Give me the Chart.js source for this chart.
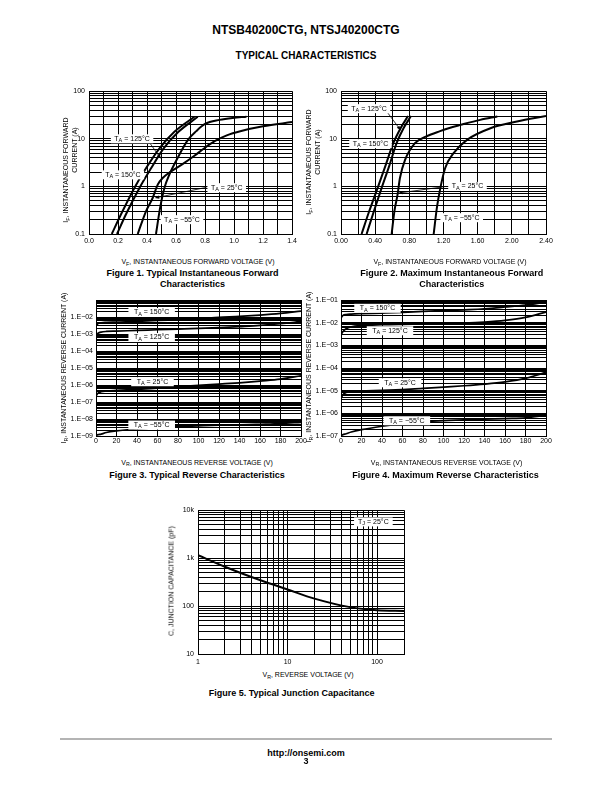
<!DOCTYPE html>
<html>
<head>
<meta charset="utf-8">
<title>NTSB40200CTG typical characteristics</title>
<script src="https://cdn.jsdelivr.net/npm/chart.js@4.4.1/dist/chart.umd.min.js"></script>
<style>
  body { margin: 0; background: #fff; }
  #page { position: relative; width: 612px; height: 792px; overflow: hidden;
          font-family: "Liberation Sans", Arial, sans-serif; color: #000; }
  .t { position: absolute; white-space: nowrap; transform: translate(-50%, -50%); line-height: 1; }
  .r { transform: translate(-50%, -50%) rotate(-90deg); }
  .ax { font-size: 7px; }
  .cap { font-size: 9px; font-weight: bold; }
  .s { font-size: 0.75em; position: relative; top: 0.35em; }
  canvas { position: absolute; }
  #rule { position: absolute; left: 60px; top: 738px; width: 492px; height: 2px; background: #b4b4b4; }
</style>
</head>
<body>
<div id="page">
  <div class="t" style="left:306px;top:30px;font-size:12px;font-weight:bold">NTSB40200CTG, NTSJ40200CTG</div>
  <div class="t" style="left:306px;top:56px;font-size:10px;font-weight:bold">TYPICAL CHARACTERISTICS</div>

  <canvas id="fig1"></canvas>
  <canvas id="fig2"></canvas>
  <canvas id="fig3"></canvas>
  <canvas id="fig4"></canvas>
  <canvas id="fig5"></canvas>

  <!-- figure 1 texts -->
  <div class="t ax r" style="left:65.5px;top:170px">I<span class="s">F</span>, INSTANTANEOUS FORWARD</div>
  <div class="t ax r" style="left:74px;top:150px">CURRENT (A)</div>
  <div class="t ax" style="left:198px;top:262px">V<span class="s">F</span>, INSTANTANEOUS FORWARD VOLTAGE (V)</div>
  <div class="t cap" style="left:192.5px;top:273.3px">Figure 1. Typical Instantaneous Forward</div>
  <div class="t cap" style="left:192.5px;top:284.3px">Characteristics</div>

  <!-- figure 2 texts -->
  <div class="t ax r" style="left:309px;top:162px">I<span class="s">F</span>, INSTANTANEOUS FORWARD</div>
  <div class="t ax r" style="left:317px;top:151.5px">CURRENT (A)</div>
  <div class="t ax" style="left:450px;top:262px">V<span class="s">F</span>, INSTANTANEOUS FORWARD VOLTAGE (V)</div>
  <div class="t cap" style="left:451.8px;top:273.3px">Figure 2. Maximum Instantaneous Forward</div>
  <div class="t cap" style="left:451.8px;top:284.3px">Characteristics</div>

  <!-- figure 3 texts -->
  <div class="t ax r" style="left:63.5px;top:368px">I<span class="s">R</span>, INSTANTANEOUS REVERSE CURRENT (A)</div>
  <div class="t ax" style="left:197px;top:462.5px">V<span class="s">R</span>, INSTANTANEOUS REVERSE VOLTAGE (V)</div>
  <div class="t cap" style="left:197px;top:475px">Figure 3. Typical Reverse Characteristics</div>

  <!-- figure 4 texts -->
  <div class="t ax r" style="left:309px;top:367px">I<span class="s">R</span>, INSTANTANEOUS REVERSE CURRENT (A)</div>
  <div class="t ax" style="left:446.5px;top:462.5px">V<span class="s">R</span>, INSTANTANEOUS REVERSE VOLTAGE (V)</div>
  <div class="t cap" style="left:445.5px;top:475px">Figure 4. Maximum Reverse Characteristics</div>

  <!-- figure 5 texts -->
  <div class="t ax r" style="left:170.5px;top:581px">C, JUNCTION CAPACITANCE (pF)</div>
  <div class="t ax" style="left:308px;top:675px">V<span class="s">R</span>, REVERSE VOLTAGE (V)</div>
  <div class="t cap" style="left:291.7px;top:692.7px">Figure 5. Typical Junction Capacitance</div>

  <div id="rule"></div>
  <div class="t" style="left:306px;top:752.5px;font-size:9px;font-weight:bold">http://onsemi.com</div>
  <div class="t" style="left:306px;top:760.5px;font-size:9px;font-weight:bold">3</div>
</div>

<script>
const FONT = '"Liberation Sans", Arial, sans-serif';

// Figure 1 - typical forward, VF (V) vs IF (A)
const f1V150 = [0.157, 0.221, 0.313, 0.393, 0.486, 0.589, 0.727];
const f1I150 = [0.1, 0.26, 0.93, 2.4, 6.3, 14, 29];
const f1V125 = [0.193, 0.255, 0.348, 0.428, 0.515, 0.617, 0.75];
const f1I125 = [0.1, 0.26, 0.93, 2.4, 6.3, 14, 29];
const f1V25 = [0.336, 0.393, 0.439, 0.474, 0.508, 0.566, 0.65, 0.727, 0.80, 0.87, 0.95, 1.05, 1.2, 1.4];
const f1I25 = [0.1, 0.30, 0.57, 1.09, 1.5, 2.07, 3.0, 4.4, 6.5, 9.0, 11.8, 14.6, 18.3, 22.5];
const f1Vm55 = [0.462, 0.49, 0.52, 0.555, 0.61, 0.68, 0.74, 0.80, 0.90, 0.99, 1.086];
const f1Im55 = [0.1, 0.35, 0.93, 1.8, 3.9, 9.3, 14.5, 20.5, 25, 27.5, 29];
const f1XLabels = ['0.0', '0.2', '0.4', '0.6', '0.8', '1.0', '1.2', '1.4'];
const f1YLabels = ['0.1', '1', '10', '100'];

// Figure 2 - maximum forward
const f2V150 = [0.241, 0.33, 0.428, 0.52, 0.612, 0.70, 0.785];
const f2I150 = [0.1, 0.3, 0.92, 2.7, 8.1, 17, 30];
const f2V125 = [0.30, 0.385, 0.475, 0.565, 0.651, 0.735, 0.82];
const f2I125 = [0.1, 0.3, 0.92, 2.7, 8.1, 17, 30];
const f2V25 = [0.593, 0.625, 0.662, 0.69, 0.75, 0.866, 1.0, 1.16, 1.26, 1.40, 1.63, 1.83];
const f2I25 = [0.1, 0.3, 0.67, 1.5, 3.6, 8.1, 11.2, 14.5, 16.7, 19.6, 25, 29.4];
const f2Vm55 = [1.085, 1.124, 1.163, 1.22, 1.318, 1.475, 1.75, 2.06, 2.4];
const f2Im55 = [0.1, 0.37, 0.92, 2.43, 5.0, 9.5, 16.7, 23, 30];
const f2XLabels = ['0.00', '0.40', '0.80', '1.20', '1.60', '2.00', '2.40'];
const f2YLabels = ['0.1', '1', '10', '100'];

// Figure 3 - typical reverse, VR (V) vs IR (A)
const f3V = [0, 2, 5, 10, 20, 40, 60, 80, 100, 120, 140, 160, 180, 200];
const f3I150 = [3.2e-3, 4.2e-3, 4.6e-3, 4.8e-3, 5.0e-3, 5.5e-3, 6.3e-3, 6.9e-3, 7.9e-3, 9.5e-3, 1.08e-2, 1.29e-2, 1.62e-2, 2.2e-2];
const f3I125 = [8.9e-4, 1.12e-3, 1.29e-3, 1.41e-3, 1.48e-3, 1.62e-3, 1.78e-3, 1.95e-3, 2.14e-3, 2.4e-3, 2.75e-3, 3.2e-3, 4.0e-3, 5.5e-3];
const f3I25 = [2.3e-7, 3.3e-7, 4.0e-7, 4.4e-7, 4.8e-7, 5.5e-7, 6.6e-7, 7.9e-7, 9.5e-7, 1.13e-6, 1.35e-6, 1.7e-6, 2.2e-6, 3.5e-6];
const f3Im55 = [1.1e-9, 1.2e-9, 1.3e-9, 1.6e-9, 2.0e-9, 2.6e-9, 3.1e-9, 3.5e-9, 3.9e-9, 4.3e-9, 4.5e-9, 4.9e-9, 5.4e-9, 6.4e-9];
const f3XLabels = ['0', '20', '40', '60', '80', '100', '120', '140', '160', '180', '200'];
const f3YLabels = ['1.E\u221209', '1.E\u221208', '1.E\u221207', '1.E\u221206', '1.E\u221205', '1.E\u221204', '1.E\u221203', '1.E\u221202'];

// Figure 4 - maximum reverse
const f4V = [0, 2, 5, 10, 20, 40, 60, 80, 100, 120, 140, 160, 180, 200];
const f4I150 = [1.6e-2, 2.1e-2, 2.3e-2, 2.4e-2, 2.5e-2, 2.65e-2, 2.84e-2, 3.15e-2, 3.4e-2, 3.7e-2, 4.1e-2, 4.9e-2, 6.0e-2, 8.1e-2];
const f4I125 = [2.9e-3, 4.1e-3, 5.4e-3, 6.6e-3, 7.5e-3, 8.1e-3, 8.4e-3, 8.6e-3, 8.9e-3, 9.5e-3, 1.06e-2, 1.26e-2, 1.7e-2, 2.94e-2];
const f4I25 = [4.5e-6, 6.8e-6, 8.3e-6, 8.9e-6, 9.6e-6, 1.02e-5, 1.12e-5, 1.25e-5, 1.44e-5, 1.65e-5, 1.95e-5, 2.45e-5, 3.5e-5, 6.4e-5];
const f4Im55 = [1.07e-7, 1.15e-7, 1.26e-7, 1.5e-7, 1.9e-7, 2.7e-7, 3.6e-7, 4.3e-7, 4.8e-7, 5.1e-7, 5.5e-7, 5.9e-7, 6.3e-7, 8.3e-7];
const f4XLabels = f3XLabels;
const f4YLabels = ['1.E\u221207', '1.E\u221206', '1.E\u221205', '1.E\u221204', '1.E\u221203', '1.E\u221202', '1.E\u221201'];

// Figure 5 - junction capacitance, VR (V) vs C (pF)
const f5V = [1, 2, 3, 5, 10, 20, 50, 100, 200];
const f5C = [1150, 660, 490, 345, 222, 143, 95, 82, 79];
const f5XLabels = ['1', '10', '100'];
const f5YLabels = ['10', '100', '1k', '10k'];

// grid positions
function steps(min, max, step) {
  const out = [];
  const n = Math.round((max - min) / step);
  for (let i = 0; i <= n; i++) out.push(+(min + i * step).toFixed(6));
  return out;
}
function decades(min, max) {
  const out = [];
  for (let e = Math.floor(Math.log10(min)); e <= Math.ceil(Math.log10(max)); e++) {
    for (let k = 1; k <= 9; k++) {
      const v = +(k * Math.pow(10, e)).toPrecision(4);
      if (v >= min * 0.9999 && v <= max * 1.0001) out.push(v);
    }
  }
  return out;
}
// label only the powers of ten, blank for the rest (keeps the grid line)
function decadeLabel(labels, min) {
  const e0 = Math.round(Math.log10(min));
  return v => {
    const e = Math.log10(v), r = Math.round(e);
    return Math.abs(e - r) < 1e-6 ? (labels[r - e0] ?? '') : '';
  };
}
function everyOther(labels) {
  return (v, i) => (i % 2 === 0 ? (labels[i / 2] ?? '') : '');
}

function scale(type, min, max, ticks, label, pad, pos) {
  return {
    type, min, max, position: pos,
    grid: { color: '#000', lineWidth: 1, drawTicks: false },
    border: { color: '#000', width: 1 },
    ticks: { color: '#000', font: { family: FONT, size: 7 }, padding: pad,
             autoSkip: false, maxRotation: 0, minRotation: 0, callback: label },
    afterBuildTicks: s => { s.ticks = ticks.map(v => ({ value: v })); },
    afterFit: s => { if (pos === 'left') s.width = 40; else s.height = 16; }
  };
}

// white boxed "T_A = ..." labels with optional arrow
function tagPlugin(items, pad) {
  return {
    id: 'tags',
    afterDatasetsDraw(chart) {
      const ctx = chart.ctx, sx = chart.scales.x, sy = chart.scales.y;
      const px = x => sx.getPixelForValue(x), py = y => sy.getPixelForValue(y);
      const big = '7px ' + FONT, small = '5.5px ' + FONT;
      ctx.save();
      for (const t of items) {
        if (t.from) {
          const x0 = px(t.from[0]), y0 = py(t.from[1]), x1 = px(t.to[0]), y1 = py(t.to[1]);
          const a = Math.atan2(y1 - y0, x1 - x0), c = Math.cos(a), s = Math.sin(a);
          ctx.strokeStyle = '#000'; ctx.fillStyle = '#000'; ctx.lineWidth = 0.8;
          ctx.beginPath(); ctx.moveTo(x0, y0); ctx.lineTo(x1 - 3 * c, y1 - 3 * s); ctx.stroke();
          ctx.beginPath(); ctx.moveTo(x1, y1);
          ctx.lineTo(x1 - 4.5 * c + 1.6 * s, y1 - 4.5 * s - 1.6 * c);
          ctx.lineTo(x1 - 4.5 * c - 1.6 * s, y1 - 4.5 * s + 1.6 * c);
          ctx.closePath(); ctx.fill();
        }
        ctx.font = big;
        const wT = ctx.measureText('T').width, rest = ' = ' + t.text, wR = ctx.measureText(rest).width;
        ctx.font = small;
        const wS = ctx.measureText(t.sub).width;
        const w = wT + wS + wR, cx = px(t.x), cy = py(t.y);
        ctx.fillStyle = '#fff';
        ctx.fillRect(cx - w / 2 - pad, cy - 4.5, w + 2 * pad, 9);
        ctx.fillStyle = '#000'; ctx.textBaseline = 'middle'; ctx.textAlign = 'left';
        let x = cx - w / 2;
        ctx.font = big; ctx.fillText('T', x, cy); x += wT;
        ctx.font = small; ctx.fillText(t.sub, x, cy + 1.8); x += wS;
        ctx.font = big; ctx.fillText(rest, x, cy);
      }
      ctx.restore();
    }
  };
}

function makeChart(id, box, xs, ys, series, tags, tagPad, lw) {
  const c = document.getElementById(id);
  c.width = box.w + 54; c.height = box.h + 24;
  c.style.left = (box.l - 40) + 'px'; c.style.top = (box.t - 8) + 'px';
  return new Chart(c, {
    type: 'scatter',
    data: {
      datasets: series.map(s => ({
        data: s[0].map((x, i) => ({ x, y: s[1][i] })),
        showLine: true, borderColor: '#000', borderWidth: lw, pointRadius: 0,
        cubicInterpolationMode: 'monotone', fill: false
      }))
    },
    options: {
      responsive: false, animation: false, events: [],
      layout: { padding: { top: 8, right: 14, left: 0, bottom: 0 } },
      plugins: { legend: { display: false }, tooltip: { enabled: false } },
      scales: { x: xs, y: ys }
    },
    plugins: [tagPlugin(tags, tagPad)]
  });
}

makeChart('fig1', { l: 89, t: 91, w: 203, h: 143 },
  scale('linear', 0, 1.4, steps(0, 1.4, 0.1), everyOther(f1XLabels), 3, 'bottom'),
  scale('logarithmic', 0.1, 100, decades(0.1, 100), decadeLabel(f1YLabels, 0.1), 4, 'left'),
  [[f1V150, f1I150], [f1V125, f1I125], [f1V25, f1I25], [f1Vm55, f1Im55]],
  [
    { x: 0.297, y: 10, sub: 'A', text: '125°C', from: [0.42, 8.1], to: [0.497, 3.8] },
    { x: 0.234, y: 1.75, sub: 'A', text: '150°C' },
    { x: 0.95, y: 0.94, sub: 'A', text: '25°C', from: [0.81, 0.955], to: [0.453, 0.57] },
    { x: 0.641, y: 0.2, sub: 'A', text: '\u221255°C' }
  ], 3.5, 2);

makeChart('fig2', { l: 341, t: 91, w: 205, h: 143 },
  scale('linear', 0, 2.4, steps(0, 2.4, 0.2), everyOther(f2XLabels), 3, 'bottom'),
  scale('logarithmic', 0.1, 100, decades(0.1, 100), decadeLabel(f2YLabels, 0.1), 4, 'left'),
  [[f2V150, f2I150], [f2V125, f2I125], [f2V25, f2I25], [f2Vm55, f2Im55]],
  [
    { x: 0.328, y: 43, sub: 'A', text: '125°C', from: [0.55, 34.5], to: [0.70, 15] },
    { x: 0.345, y: 7.9, sub: 'A', text: '150°C' },
    { x: 1.481, y: 1.0, sub: 'A', text: '25°C', from: [1.23, 1.0], to: [0.667, 0.72] },
    { x: 1.413, y: 0.22, sub: 'A', text: '\u221255°C' }
  ], 3.5, 2);

makeChart('fig3', { l: 96, t: 300, w: 205, h: 136 },
  scale('linear', 0, 200, steps(0, 200, 20), (v, i) => f3XLabels[i] ?? '', 1, 'bottom'),
  scale('logarithmic', 1e-9, 1e-1, decades(1e-9, 1e-1), decadeLabel(f3YLabels, 1e-9), 3, 'left'),
  [[f3V, f3I150], [f3V, f3I125], [f3V, f3I25], [f3V, f3Im55]],
  [
    { x: 54.3, y: 1.84e-2, sub: 'A', text: '150°C' },
    { x: 54.3, y: 6.2e-4, sub: 'A', text: '125°C' },
    { x: 55.1, y: 1.56e-6, sub: 'A', text: '25°C' },
    { x: 54.3, y: 4.4e-9, sub: 'A', text: '\u221255°C' }
  ], 5.5, 1.7);

makeChart('fig4', { l: 341, t: 300, w: 205, h: 136 },
  scale('linear', 0, 200, steps(0, 200, 20), (v, i) => f4XLabels[i] ?? '', 1, 'bottom'),
  scale('logarithmic', 1e-7, 1e-1, decades(1e-7, 1e-1), decadeLabel(f4YLabels, 1e-7), 3, 'left'),
  [[f4V, f4I150], [f4V, f4I125], [f4V, f4I25], [f4V, f4Im55]],
  [
    { x: 35.6, y: 4.3e-2, sub: 'A', text: '150°C' },
    { x: 47.8, y: 4.4e-3, sub: 'A', text: '125°C' },
    { x: 57.6, y: 2.23e-5, sub: 'A', text: '25°C' },
    { x: 64.2, y: 4.7e-7, sub: 'A', text: '\u221255°C' }
  ], 5.5, 1.7);

makeChart('fig5', { l: 198, t: 510, w: 206, h: 144 },
  scale('logarithmic', 1, 200, decades(1, 200), decadeLabel(f5XLabels, 1), 4, 'bottom'),
  scale('logarithmic', 10, 10000, decades(10, 10000), decadeLabel(f5YLabels, 10), 4, 'left'),
  [[f5V, f5C]],
  [{ x: 91, y: 5700, sub: 'J', text: '25°C' }], 4, 2);
</script>
</body>
</html>
